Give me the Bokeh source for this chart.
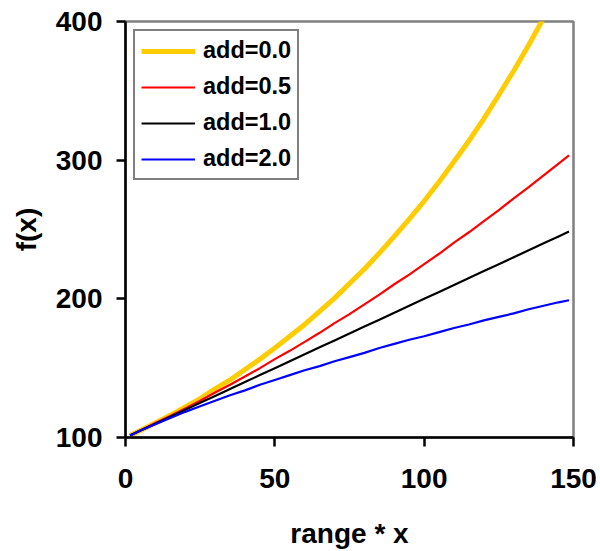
from bokeh.plotting import figure
from bokeh.models import Range1d, FixedTicker
from bokeh.embed import file_html
from bokeh.resources import INLINE

# sample positions along range * x
x = [1.5, 5, 10, 15, 20, 25, 30, 35, 40, 45, 50, 55, 60, 65, 70, 75, 80, 85,
     90, 95, 100, 105, 110, 115, 120, 125, 130, 135, 140, 145, 148.5]

f_add00 = [101.5, 105, 110.5, 116, 122, 128, 135, 141.5, 149, 156.5, 164.5, 173,
           181.5, 191, 200.5, 211, 221.5, 233, 245, 257.5, 270.5, 284.5, 299, 314,
           330, 347, 364.5, 383, 402.5, 423, 438]
f_add05 = [101.5, 105, 110.5, 115.5, 121, 126.5, 132.5, 138, 144, 150, 156.5, 162.5,
           169, 175.5, 182.5, 189, 196, 203, 210.5, 217.5, 225, 232.5, 240.5, 248,
           256, 264, 272.5, 280.5, 289, 297.5, 303.5]
f_add10 = [101.5, 105, 110, 115, 120, 125, 130, 135, 140, 145, 150, 155, 160, 165,
           170, 175, 180, 185, 190, 195, 200, 205, 210, 215, 220, 225, 230, 235,
           240, 245, 248.5]
f_add20 = [101.5, 105, 109.5, 114, 118.5, 122.5, 126.5, 130.5, 134, 138, 141.5, 145,
           148.5, 151.5, 155, 158, 161, 164.5, 167.5, 170.5, 173, 176, 179, 181.5,
           184.5, 187, 189.5, 192.5, 195, 197.5, 199]

series_labels = ["add=0.0", "add=0.5", "add=1.0", "add=2.0"]
series_colors = ["#FFCC00", "#FF0000", "#000000", "#0000FF"]
series_widths = [5, 2.2, 2.2, 2.2]

x_ticks = [0, 50, 100, 150]
y_ticks = [100, 200, 300, 400]

FONT = "Liberation Sans"

p = figure(width=600, height=551, x_range=Range1d(0, 150), y_range=Range1d(100, 400),
           output_backend="svg", toolbar_location=None,
           min_border_left=125, min_border_right=27, min_border_top=21,
           min_border_bottom=113)

p.background_fill_color = "white"
p.border_fill_color = "white"
p.outline_line_color = "#808080"
p.outline_line_width = 2.5
p.xgrid.visible = False
p.ygrid.visible = False

for ys, lab, col, w in zip([f_add00, f_add05, f_add10, f_add20],
                           series_labels, series_colors, series_widths):
    p.line(x, ys, line_color=col, line_width=w, legend_label=lab)

for ax in (p.xaxis[0], p.yaxis[0]):
    ax.axis_line_color = "black"
    ax.axis_line_width = 2.5
    ax.major_tick_line_color = "black"
    ax.major_tick_line_width = 2.5
    ax.major_tick_in = 0
    ax.major_tick_out = 9
    ax.minor_tick_line_color = None
    ax.major_label_text_font = FONT
    ax.major_label_text_font_style = "bold"
    ax.major_label_text_font_size = "28px"
    ax.major_label_text_color = "black"
    ax.axis_label_text_font = FONT
    ax.axis_label_text_font_style = "bold"
    ax.axis_label_text_font_size = "28px"
    ax.axis_label_text_color = "black"

p.xaxis.ticker = FixedTicker(ticks=x_ticks)
p.yaxis.ticker = FixedTicker(ticks=y_ticks)
p.xaxis.major_label_standoff = 22
p.yaxis.major_label_standoff = 14
p.xaxis.axis_label = "range * x"
p.yaxis.axis_label = "f(x)"
p.xaxis.axis_label_standoff = 27
p.yaxis.axis_label_standoff = 11

lg = p.legend[0]
lg.location = "top_left"
lg.margin = 8
lg.padding = 6
lg.spacing = 9
lg.border_line_color = "black"
lg.border_line_width = 2
lg.background_fill_color = "white"
lg.glyph_width = 54
lg.glyph_height = 20
lg.label_height = 20
lg.label_standoff = 8
lg.label_text_font = FONT
lg.label_text_font_style = "bold"
lg.label_text_font_size = "23.5px"
lg.label_text_color = "black"

open("out.html", "w").write(file_html(p, INLINE))
